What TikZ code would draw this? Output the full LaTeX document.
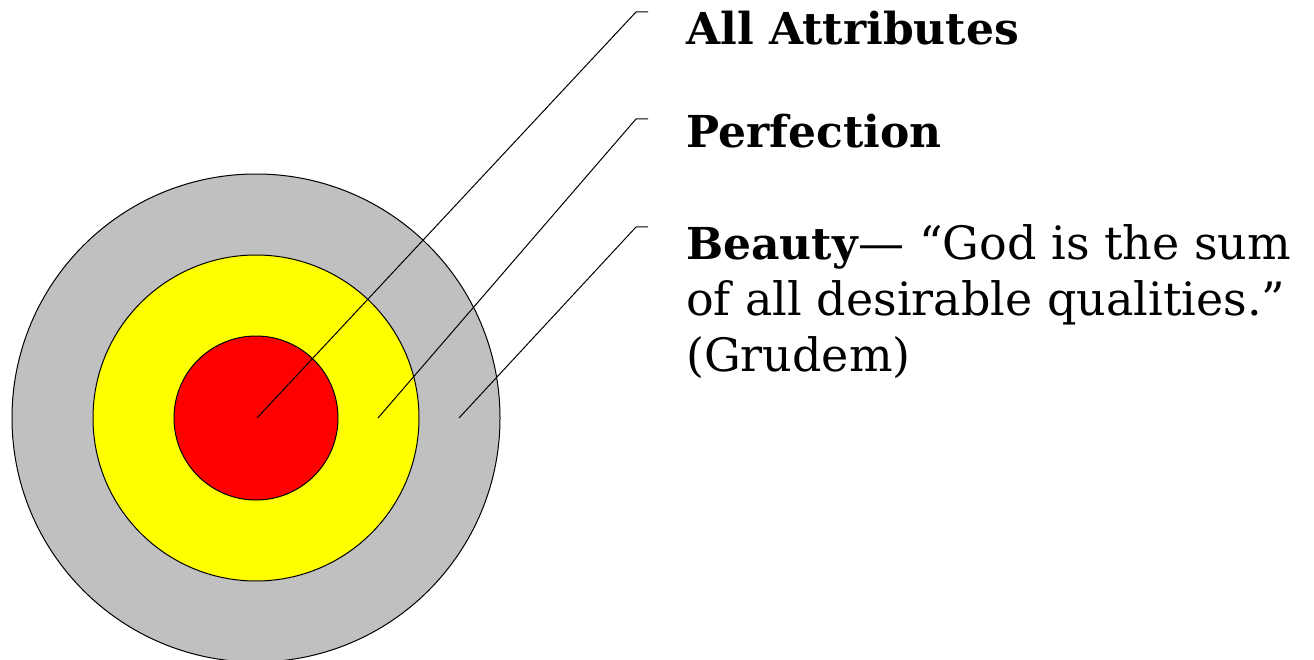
\documentclass[tikz,border=0pt]{standalone}
\usepackage{fontspec}
\setmainfont{DejaVu Serif}
\usepackage{xcolor}
\usetikzlibrary{positioning}
\definecolor{anillo}{RGB}{192,192,192}
\definecolor{amarillo}{RGB}{255,255,0}
\definecolor{rojo}{RGB}{255,0,0}
\tikzset{
  ring/.style={circle, draw=black, line width=1pt, inner sep=0pt},
  leader/.style={draw=black, line width=1pt},
  titulo/.style={anchor=base west, inner sep=0pt, align=left,
                 font=\fontsize{44}{56}\selectfont},
  cita/.style={anchor=base west, inner sep=0pt, align=left,
               font=\fontsize{46}{56}\selectfont}
}
\begin{document}
\begin{tikzpicture}[x=1pt, y=-1pt]
  \useasboundingbox (0,0) rectangle (1314,660);
  % Anillos
  \node[ring, fill=anillo, minimum size=488pt] (outer) at (256,418) {};
  \node[ring, fill=amarillo, minimum size=326pt] (middle) at (256,418) {};
  \node[ring, fill=rojo, minimum size=164pt] (inner) at (256,418) {};

  % Puntos de las guias
  \coordinate (p1) at (257,418);
  \coordinate (p2) at (378,418);
  \coordinate (p3) at (459,418);
  \coordinate (k1) at (636,12);
  \coordinate (k2) at (636,119);
  \coordinate (k3) at (636,227);

  % Textos
  \node[titulo] (t1) at (686,45) {\textbf{All Attributes}};
  \node[titulo] (t2) at (686,148) {\textbf{Perfection}};
  \node[cita] (t3) at (686,371) {{\fontsize{44}{56}\selectfont\textbf{Beauty}}— “God is the sum\\of all desirable qualities.”\\(Grudem)};

  \draw[leader] (p1) -- (k1) -- ++(12,0);
  \draw[leader] (p2) -- (k2) -- ++(12,0);
  \draw[leader] (p3) -- (k3) -- ++(12,0);
\end{tikzpicture}
\end{document}
